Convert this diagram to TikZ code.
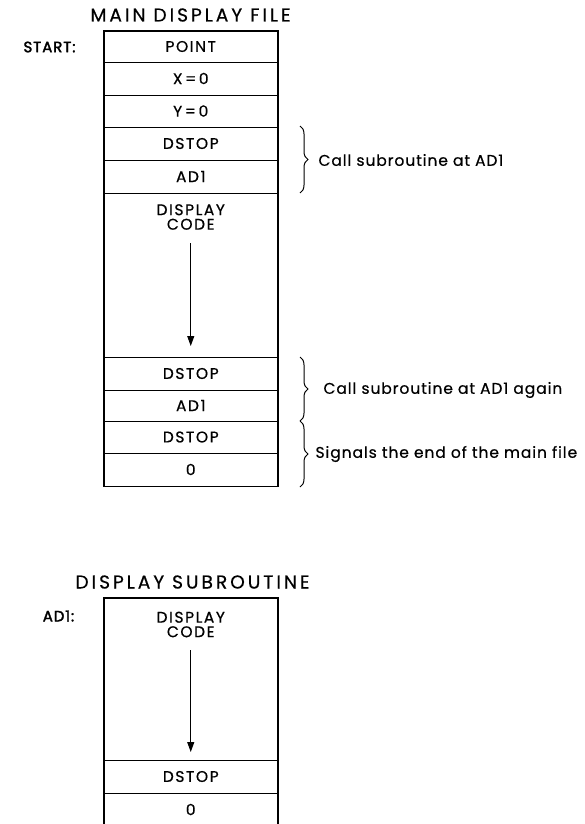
\documentclass[tikz,border=0pt]{standalone}
\usepackage{fontspec}
\setmainfont{Poppins}
\newfontfamily\cellfont{Poppins}[LetterSpace=10, FakeBold=0.6]
\newfontfamily\titlefont{Poppins}[LetterSpace=16, FakeBold=0.5]
\newfontfamily\notefont{Poppins}[LetterSpace=6, FakeBold=0.5]
\newfontfamily\tagfont{Poppins}[LetterSpace=6, FakeBold=2.2]
\usetikzlibrary{decorations.pathreplacing,arrows.meta}
\begin{document}
\begin{tikzpicture}[x=1pt,y=-1pt,
  cell/.style={draw, line width=0.9pt, minimum width=173.5pt, inner sep=0pt, font=\cellfont\fontsize{15.5}{16}\selectfont},
  frame/.style={draw, line width=1.8pt},
  ttl/.style={font=\titlefont\fontsize{18.6}{20}\selectfont},
  lbl/.style={font=\notefont\fontsize{15.5}{16}\selectfont, anchor=west},
  tag/.style={font=\tagfont\fontsize{15}{16}\selectfont},
  code/.style={align=center, font=\cellfont\fontsize{15.5}{14.5}\selectfont, inner sep=0pt},
  brc/.style={decorate, decoration={brace, amplitude=8pt}, line width=1pt},
  flow/.style={-{Triangle[length=10pt,width=7pt]}, line width=1pt}]
\path[use as bounding box, clip] (0,0) rectangle (584,824);
% main display file
\node[ttl] (mt) at (190.5,15) {MAIN DISPLAY FILE};
\node[tag] (st) at (49.5,47) {START:};
\node[cell, minimum height=31pt] (r1) at (190.75,46.5) {POINT};
\node[cell, minimum height=33pt] (r2) at (190.75,78.5) {X\,=\,0};
\node[cell, minimum height=32pt] (r3) at (190.75,111) {Y\,=\,0};
\node[cell, minimum height=33pt] (r4) at (190.75,143.5) {DSTOP};
\node[cell, minimum height=33pt] (r5) at (190.75,176.5) {AD1};
\node[cell, minimum height=164pt] (r6) at (190.75,275) {};
\node[cell, minimum height=33pt] (r7) at (190.75,373.5) {DSTOP};
\node[cell, minimum height=31pt] (r8) at (190.75,405.5) {AD1};
\node[cell, minimum height=32pt] (r9) at (190.75,437) {DSTOP};
\node[cell, minimum height=33pt] (r10) at (190.75,469.5) {0};
\draw[frame] (r1.north west) rectangle (r10.south east);
\node[code] (dc) at (190.75,217) {DISPLAY\\CODE};
\coordinate (a1s) at (190.75,243);
\coordinate (a1e) at (190.75,346);
\draw[flow] (a1s) -- (a1e);
% braces
\coordinate (b1t) at (300,126);
\coordinate (b1b) at (300,193);
\draw[brc] (b1t) -- (b1b);
\node[lbl] (t1) at (315,160) {Call subroutine at AD1};
\coordinate (b2t) at (300,357);
\coordinate (b2b) at (300,421);
\draw[brc] (b2t) -- (b2b);
\node[lbl] (t2) at (320,390) {Call subroutine at AD1 again};
\coordinate (b3t) at (300,421);
\coordinate (b3b) at (300,487);
\draw[brc] (b3t) -- (b3b);
\node[lbl] (t3) at (312,454) {Signals the end of the main file};
% display subroutine
\node[ttl] (sbt) at (192.5,582) {DISPLAY SUBROUTINE};
\node[tag] (ad) at (58.5,616) {AD1:};
\node[cell, minimum height=162pt] (s1) at (190.75,679) {};
\node[cell, minimum height=33pt] (s2) at (190.75,776.5) {DSTOP};
\node[cell, minimum height=33pt] (s3) at (190.75,809.5) {0};
\draw[frame] (s1.north west) rectangle (s3.south east);
\node[code] (dc2) at (190.75,624.5) {DISPLAY\\CODE};
\coordinate (a2s) at (190.75,650);
\coordinate (a2e) at (190.75,752);
\draw[flow] (a2s) -- (a2e);
\end{tikzpicture}
\end{document}
